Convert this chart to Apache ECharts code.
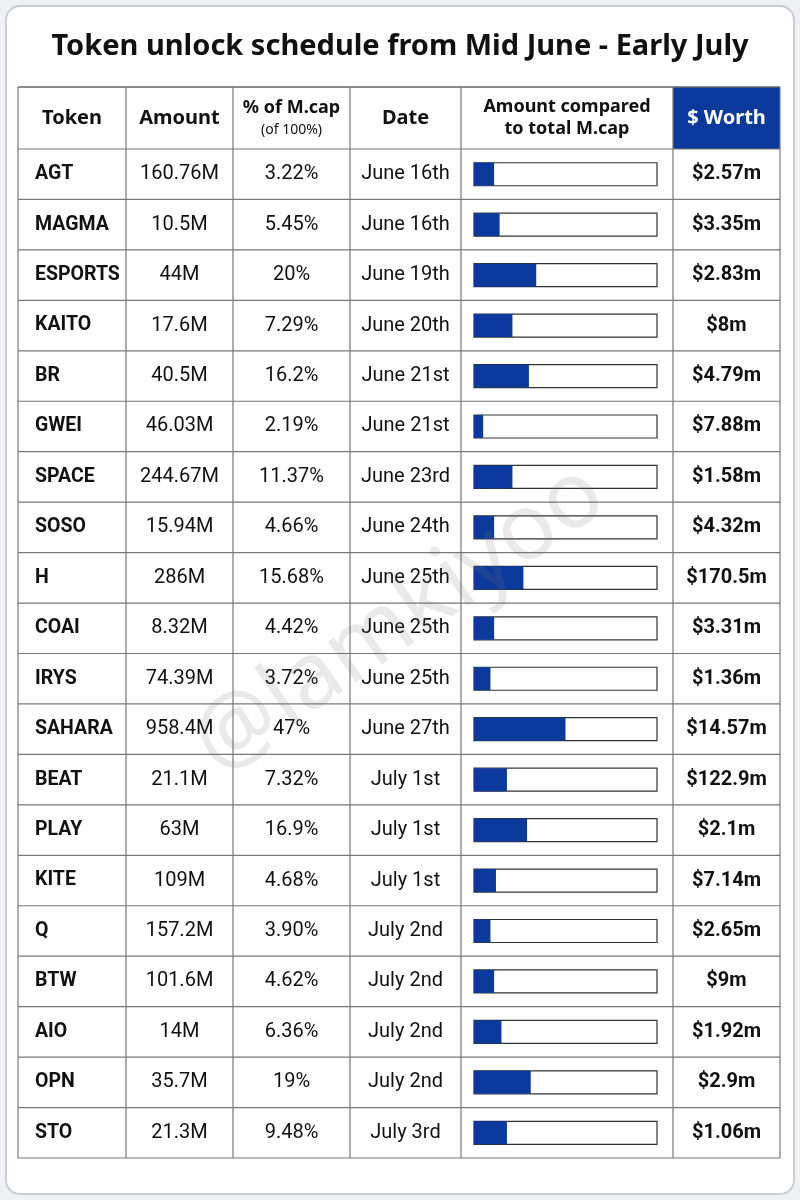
<!DOCTYPE html>
<html><head><meta charset="utf-8">
<script src="https://cdn.jsdelivr.net/npm/echarts@6/dist/echarts.min.js"></script>
<style>html,body{margin:0;background:#eef0f2}#c{width:800px;height:1200px}</style>
</head><body><div id="c"></div>
<script>
// table data
const tokens = ['AGT','MAGMA','ESPORTS','KAITO','BR','GWEI','SPACE','SOSO','H','COAI','IRYS','SAHARA','BEAT','PLAY','KITE','Q','BTW','AIO','OPN','STO']
const amounts = ['160.76M','10.5M','44M','17.6M','40.5M','46.03M','244.67M','15.94M','286M','8.32M','74.39M','958.4M','21.1M','63M','109M','157.2M','101.6M','14M','35.7M','21.3M']
const pctLabels = ['3.22%','5.45%','20%','7.29%','16.2%','2.19%','11.37%','4.66%','15.68%','4.42%','3.72%','47%','7.32%','16.9%','4.68%','3.90%','4.62%','6.36%','19%','9.48%']
const dates = ['June 16th','June 16th','June 19th','June 20th','June 21st','June 21st','June 23rd','June 24th','June 25th','June 25th','June 25th','June 27th','July 1st','July 1st','July 1st','July 2nd','July 2nd','July 2nd','July 2nd','July 3rd']
// bar fill as drawn in the picture (share of the bar track, %)
const barFill = [11,14,34,21,30,5,21,11,27,11,9,50,18,29,12,9,11,15,31,18]
const worth = ['$2.57m','$3.35m','$2.83m','$8m','$4.79m','$7.88m','$1.58m','$4.32m','$170.5m','$3.31m','$1.36m','$14.57m','$122.9m','$2.1m','$7.14m','$2.65m','$9m','$1.92m','$2.9m','$1.06m']

const F = '"Roboto",sans-serif'
const L = 18, R = 780, TOP = 87, HEAD = 149, BOT = 1158
const cols = [18,126,233,350,461,673,780]
const trackL = 474, trackW = 183
const rowH = (BOT - HEAD) / tokens.length

const chart = echarts.init(document.getElementById('c'))

function colAxis(data, offset, opts) {
  return Object.assign({
    type: 'category', data: data, inverse: true, position: 'left', offset: offset,
    axisLine: {show: false}, axisTick: {show: false}, splitLine: {show: false},
    axisLabel: {margin: 0, align: 'center', fontFamily: F, fontSize: 20, color: '#111', padding: [4, 0, 0, 0]}
  }, opts || {})
}

const g = []
g.push({type: 'rect', shape: {x: 6, y: 6, width: 788, height: 1188, r: 14}, style: {fill: '#fff', stroke: '#c9ccd0', lineWidth: 2}})
g.push({type: 'text', x: 400, y: 47, style: {text: 'Token unlock schedule from Mid June - Early July', font: 'bold 29px "Noto Sans",sans-serif', fill: '#111', align: 'center', verticalAlign: 'middle'}})
g.push({type: 'rect', shape: {x: cols[5], y: TOP, width: cols[6] - cols[5], height: HEAD - TOP}, style: {fill: '#0b3a9c'}})
const heads = [['Token'], ['Amount'], ['% of M.cap', '(of 100%)'], ['Date'], ['Amount compared', 'to total M.cap'], ['$ Worth']]
heads.forEach((h, i) => {
  const cx = (cols[i] + cols[i + 1]) / 2, cy = (TOP + HEAD) / 2
  const c = i === 5 ? '#fff' : '#111'
  if (h.length === 1) g.push({type: 'text', x: cx, y: cy, style: {text: h[0], font: 'bold 20px "Noto Sans",sans-serif', fill: c, align: 'center', verticalAlign: 'middle'}})
  else if (i === 2) {
    g.push({type: 'text', x: cx, y: cy - 10, style: {text: h[0], font: 'bold 18px "Noto Sans",sans-serif', fill: c, align: 'center', verticalAlign: 'middle'}})
    g.push({type: 'text', x: cx, y: cy + 12, style: {text: h[1], font: '14px "Noto Sans",sans-serif', fill: c, align: 'center', verticalAlign: 'middle'}})
  } else {
    g.push({type: 'text', x: cx, y: cy - 11, style: {text: h[0], font: 'bold 18px "Noto Sans",sans-serif', fill: c, align: 'center', verticalAlign: 'middle'}})
    g.push({type: 'text', x: cx, y: cy + 11, style: {text: h[1], font: 'bold 18px "Noto Sans",sans-serif', fill: c, align: 'center', verticalAlign: 'middle'}})
  }
})
// table lines
g.push({type: 'line', shape: {x1: L, y1: TOP, x2: R, y2: TOP}, style: {stroke: '#666', lineWidth: 1.5}})
for (let i = 0; i <= tokens.length; i++) {
  const y = HEAD + i * rowH
  g.push({type: 'line', shape: {x1: L, y1: y, x2: R, y2: y}, style: {stroke: '#777', lineWidth: 1.2}})
}
cols.forEach(x => g.push({type: 'line', shape: {x1: x, y1: TOP, x2: x, y2: BOT}, style: {stroke: '#777', lineWidth: 1.2}}))
g.push({type: 'text', x: 400, y: 620, rotation: Math.PI / 5.2, z: 100, style: {text: '@lamkiyoo', font: '92px "Noto Sans",sans-serif', fill: 'rgba(120,120,120,0.16)', align: 'center', verticalAlign: 'middle'}})

chart.setOption({
  animation: false,
  graphic: g,
  grid: {left: trackL, width: trackW, top: HEAD, height: BOT - HEAD},
  xAxis: {type: 'value', min: 0, max: 100, show: false},
  yAxis: [
    colAxis(tokens, trackL - 35, {axisLabel: {margin: 0, align: 'left', fontFamily: F, fontSize: 19.5, fontWeight: 'bold', color: '#111', padding: [4, 0, 0, 0]}}),
    colAxis(amounts, trackL - (cols[1] + cols[2]) / 2),
    colAxis(pctLabels, trackL - (cols[2] + cols[3]) / 2),
    colAxis(dates, trackL - (cols[3] + cols[4]) / 2),
    colAxis(worth, (cols[5] + cols[6]) / 2 - (trackL + trackW), {position: 'right', axisLabel: {margin: 0, align: 'center', fontFamily: F, fontSize: 20, fontWeight: 'bold', color: '#111', padding: [4, 0, 0, 0]}})
  ],
  series: [{
    type: 'bar', data: barFill, barWidth: 23, yAxisIndex: 0,
    itemStyle: {color: '#0b3a9c'},
    showBackground: true,
    backgroundStyle: {color: '#fff', borderColor: '#333', borderWidth: 1.2}
  }]
})
</script></body></html>
